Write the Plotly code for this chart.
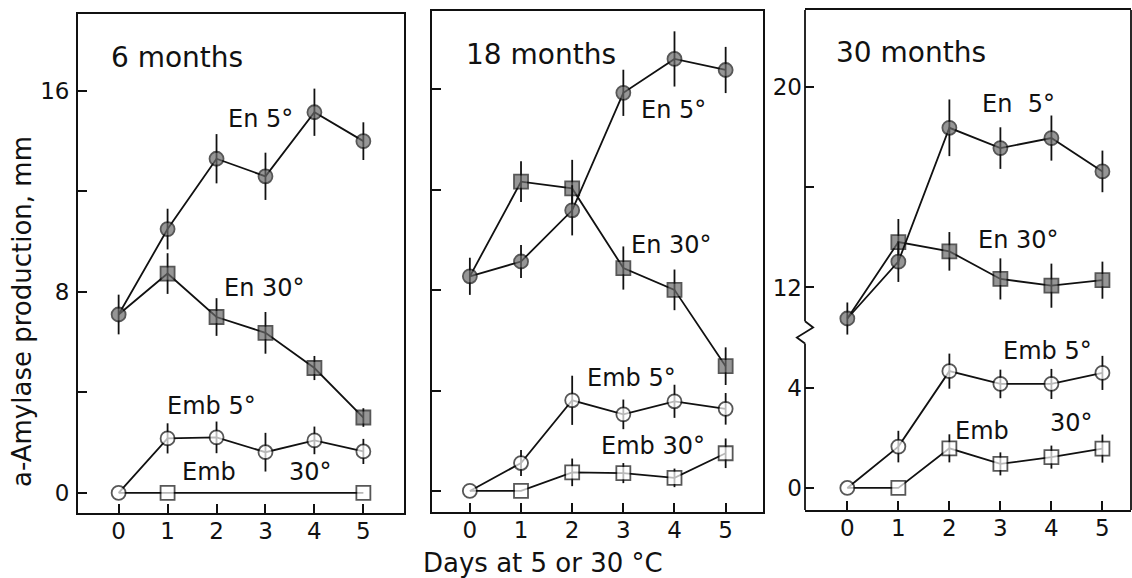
import plotly.graph_objects as go

# ---------------- data ----------------
days = [0, 1, 2, 3, 4, 5]

# 6 months
m6_en5 = [7.1, 10.5, 13.3, 12.6, 15.15, 14.0]
m6_en5_err = [0.79, 0.81, 0.98, 0.94, 0.94, 0.75]
m6_en30 = [7.1, 8.73, 7.0, 6.37, 4.97, 3.0]
m6_en30_err = [0, 0.81, 0.75, 0.83, 0.48, 0.37]
m6_emb5 = [0, 2.17, 2.21, 1.62, 2.09, 1.65]
m6_emb5_err = [0, 0.6, 0.63, 0.77, 0.55, 0.5]
m6_emb30_days = [0, 1, 5]
m6_emb30 = [0, 0, 0]

# 18 months
m18_en5 = [8.55, 9.14, 11.18, 15.86, 17.21, 16.77]
m18_en5_err = [0.74, 0.66, 1.0, 0.92, 1.1, 0.92]
m18_en30 = [8.55, 12.32, 12.05, 8.88, 8.01, 4.97]
m18_en30_err = [0, 0.81, 1.14, 0.86, 0.81, 0.75]
m18_emb5 = [0, 1.11, 3.61, 3.05, 3.57, 3.27]
m18_emb5_err = [0, 0.52, 0.98, 0.59, 0.66, 0.63]
m18_emb30 = [0, 0, 0.74, 0.71, 0.52, 1.5]
m18_emb30_err = [0, 0, 0.55, 0.4, 0.37, 0.59]

# 30 months (axis broken between 4 and 12: upper part shifted down by 4)
m30_en5 = [10.76, 13.03, 18.37, 17.56, 17.96, 16.63]
m30_en5_err = [0.64, 0.81, 1.13, 0.83, 0.9, 0.83]
m30_en30 = [10.76, 13.81, 13.44, 12.34, 12.07, 12.29]
m30_en30_err = [0, 0.92, 0.77, 0.82, 0.88, 0.74]
m30_emb5 = [0, 1.65, 4.66, 4.15, 4.15, 4.59]
m30_emb5_err = [0, 0.63, 0.7, 0.57, 0.6, 0.68]
m30_emb30 = [0, 0, 1.58, 0.96, 1.23, 1.57]
m30_emb30_err = [0, 0, 0.56, 0.46, 0.46, 0.56]
BREAK_OFFSET = 4

panel_titles = ["6 months", "18 months", "30 months"]
y_title = "a-Amylase production, mm"
x_title = "Days at 5 or 30 °C"

FONT = "DejaVu Sans"
INK = "#111111"
GREY = "#6a6a6a"
W, H = 1132, 578
MS = 14

fig = go.Figure()


def add_series(xs, ys, err, filled, symbol, ax, sizes=None):
    n = len(xs)
    if sizes is None:
        sizes = [MS] * n
    # line + error bars underneath
    fig.add_trace(go.Scatter(
        x=xs, y=ys, mode="lines",
        xaxis=ax[0], yaxis=ax[1],
        line=dict(color=INK, width=1.8),
        error_y=dict(type="data", array=err if err is not None else [0] * n,
                     visible=err is not None, color=INK, thickness=1.8, width=0),
        showlegend=False, hoverinfo="skip"))
    # markers on top
    fig.add_trace(go.Scatter(
        x=xs, y=ys, mode="markers",
        xaxis=ax[0], yaxis=ax[1],
        marker=dict(symbol=symbol, size=sizes,
                    color=GREY if filled else "white",
                    line=dict(color=INK, width=1.8)),
        showlegend=False, hoverinfo="skip"))


s0 = [0, MS, MS, MS, MS, MS]
# panel 1
add_series(days, m6_en30, m6_en30_err, True, "square", ("x", "y"), s0)
add_series(days, m6_en5, m6_en5_err, True, "circle", ("x", "y"))
add_series(m6_emb30_days, m6_emb30, None, False, "square", ("x", "y"), [0, MS, MS])
add_series(days, m6_emb5, m6_emb5_err, False, "circle", ("x", "y"))
# panel 2
add_series(days, m18_en30, m18_en30_err, True, "square", ("x2", "y2"), s0)
add_series(days, m18_en5, m18_en5_err, True, "circle", ("x2", "y2"))
add_series(days, m18_emb30, m18_emb30_err, False, "square", ("x2", "y2"), s0)
add_series(days, m18_emb5, m18_emb5_err, False, "circle", ("x2", "y2"))
# panel 3 (broken axis)
add_series(days, [v - BREAK_OFFSET for v in m30_en30], m30_en30_err, True, "square", ("x3", "y3"), s0)
add_series(days, [v - BREAK_OFFSET for v in m30_en5], m30_en5_err, True, "circle", ("x3", "y3"))
add_series(days, m30_emb30, m30_emb30_err, False, "square", ("x3", "y3"), s0)
add_series(days, m30_emb5, m30_emb5_err, False, "circle", ("x3", "y3"))

tickfont = dict(family=FONT, size=23, color=INK)


def xaxis(dom, rng):
    return dict(domain=dom, range=rng, tickvals=days, ticktext=[str(d) for d in days],
                ticks="inside", ticklen=9, tickwidth=1.8, tickcolor=INK,
                showline=True, linecolor=INK, linewidth=1.8, mirror=True,
                showgrid=False, zeroline=False, tickfont=tickfont,
                ticklabelstandoff=-4, fixedrange=True)


def yaxis(dom, rng, anchor, ticktext, showline=True):
    return dict(domain=dom, range=rng, anchor=anchor, tickvals=[0, 4, 8, 12, 16],
                ticktext=ticktext, ticks="inside", ticklen=9, tickwidth=1.8,
                tickcolor=INK, showline=showline, linecolor=INK, linewidth=1.8,
                mirror=showline, showgrid=False, zeroline=False, tickfont=tickfont,
                ticklabelstandoff=2, fixedrange=True)


fig.update_layout(
    width=W, height=H, margin=dict(l=0, r=0, t=0, b=0),
    paper_bgcolor="white", plot_bgcolor="white",
    xaxis=xaxis([78 / W, 404 / W], [-0.83, 5.83]),
    yaxis=yaxis([1 - 513 / H, 1 - 14 / H], [-0.80, 19.06], "x", ["0", "", "8", "", "16"]),
    xaxis2=xaxis([432 / W, 763 / W], [-0.74, 5.73]),
    yaxis2=yaxis([1 - 512 / H, 1 - 11 / H], [-0.84, 19.12], "x2", ["", "", "", "", ""]),
    xaxis3=xaxis([805 / W, 1131 / W], [-0.83, 5.56]),
    yaxis3=yaxis([1 - 510 / H, 1 - 10 / H], [-0.88, 19.07], "x3", ["0", "4", "12", "", "20"],
                 showline=False),
)
fig.layout.xaxis.anchor = "y"
fig.layout.xaxis2.anchor = "y2"
fig.layout.xaxis3.anchor = "y3"

# broken left axis + right border for panel 3
lk = dict(color=INK, width=1.8)
fig.add_shape(type="line", xref="x3 domain", yref="y3 domain", x0=1, x1=1, y0=0, y1=1, line=lk)
fig.add_shape(type="line", xref="x3 domain", yref="y3", x0=0, x1=0, y0=-0.88, y1=5.76, line=lk)
fig.add_shape(type="line", xref="x3 domain", yref="y3", x0=0, x1=0, y0=6.65, y1=19.07, line=lk)
fig.add_shape(type="path", xref="x3 domain", yref="y3",
              path="M 0 6.65 L 0.025 6.4 L -0.025 6.0 L 0 5.76", line=lk)

labels = [
    # (text, x, y, xref, yref, size)
    (panel_titles[0], 1.20, 17.33, "x", "y", 28),
    ("En 5°", 2.89, 14.9, "x", "y", 24),
    ("En 30°", 2.99, 8.14, "x", "y", 24),
    ("Emb 5°", 1.89, 3.46, "x", "y", 24),
    ("Emb", 1.85, 0.84, "x", "y", 24),
    ("30°", 3.91, 0.84, "x", "y", 24),
    (panel_titles[1], 1.39, 17.37, "x2", "y2", 28),
    ("En 5°", 3.98, 15.19, "x2", "y2", 24),
    ("En 30°", 3.94, 9.8, "x2", "y2", 24),
    ("Emb 5°", 3.15, 4.5, "x2", "y2", 24),
    ("Emb 30°", 3.58, 1.77, "x2", "y2", 24),
    (panel_titles[2], 1.25, 17.37, "x3", "y3", 28),
    ("En  5°", 3.36, 15.3, "x3", "y3", 24),
    ("En 30°", 3.36, 9.88, "x3", "y3", 24),
    ("Emb 5°", 3.93, 5.47, "x3", "y3", 24),
    ("Emb", 2.64, 2.27, "x3", "y3", 24),
    ("30°", 4.39, 2.6, "x3", "y3", 24),
]
for t, x, y, xr, yr, sz in labels:
    fig.add_annotation(text=t, x=x, y=y, xref=xr, yref=yr, showarrow=False,
                       xanchor="center", yanchor="middle",
                       font=dict(family=FONT, size=sz, color=INK))

fig.add_annotation(text=y_title, x=22 / W, y=1 - 312 / H, xref="paper", yref="paper",
                   textangle=-90, showarrow=False, xanchor="center", yanchor="middle",
                   font=dict(family=FONT, size=26, color=INK))
fig.add_annotation(text=x_title, x=543 / W, y=1 - 563 / H, xref="paper", yref="paper",
                   showarrow=False, xanchor="center", yanchor="middle",
                   font=dict(family=FONT, size=26, color=INK))

fig.write_html("out.html")
